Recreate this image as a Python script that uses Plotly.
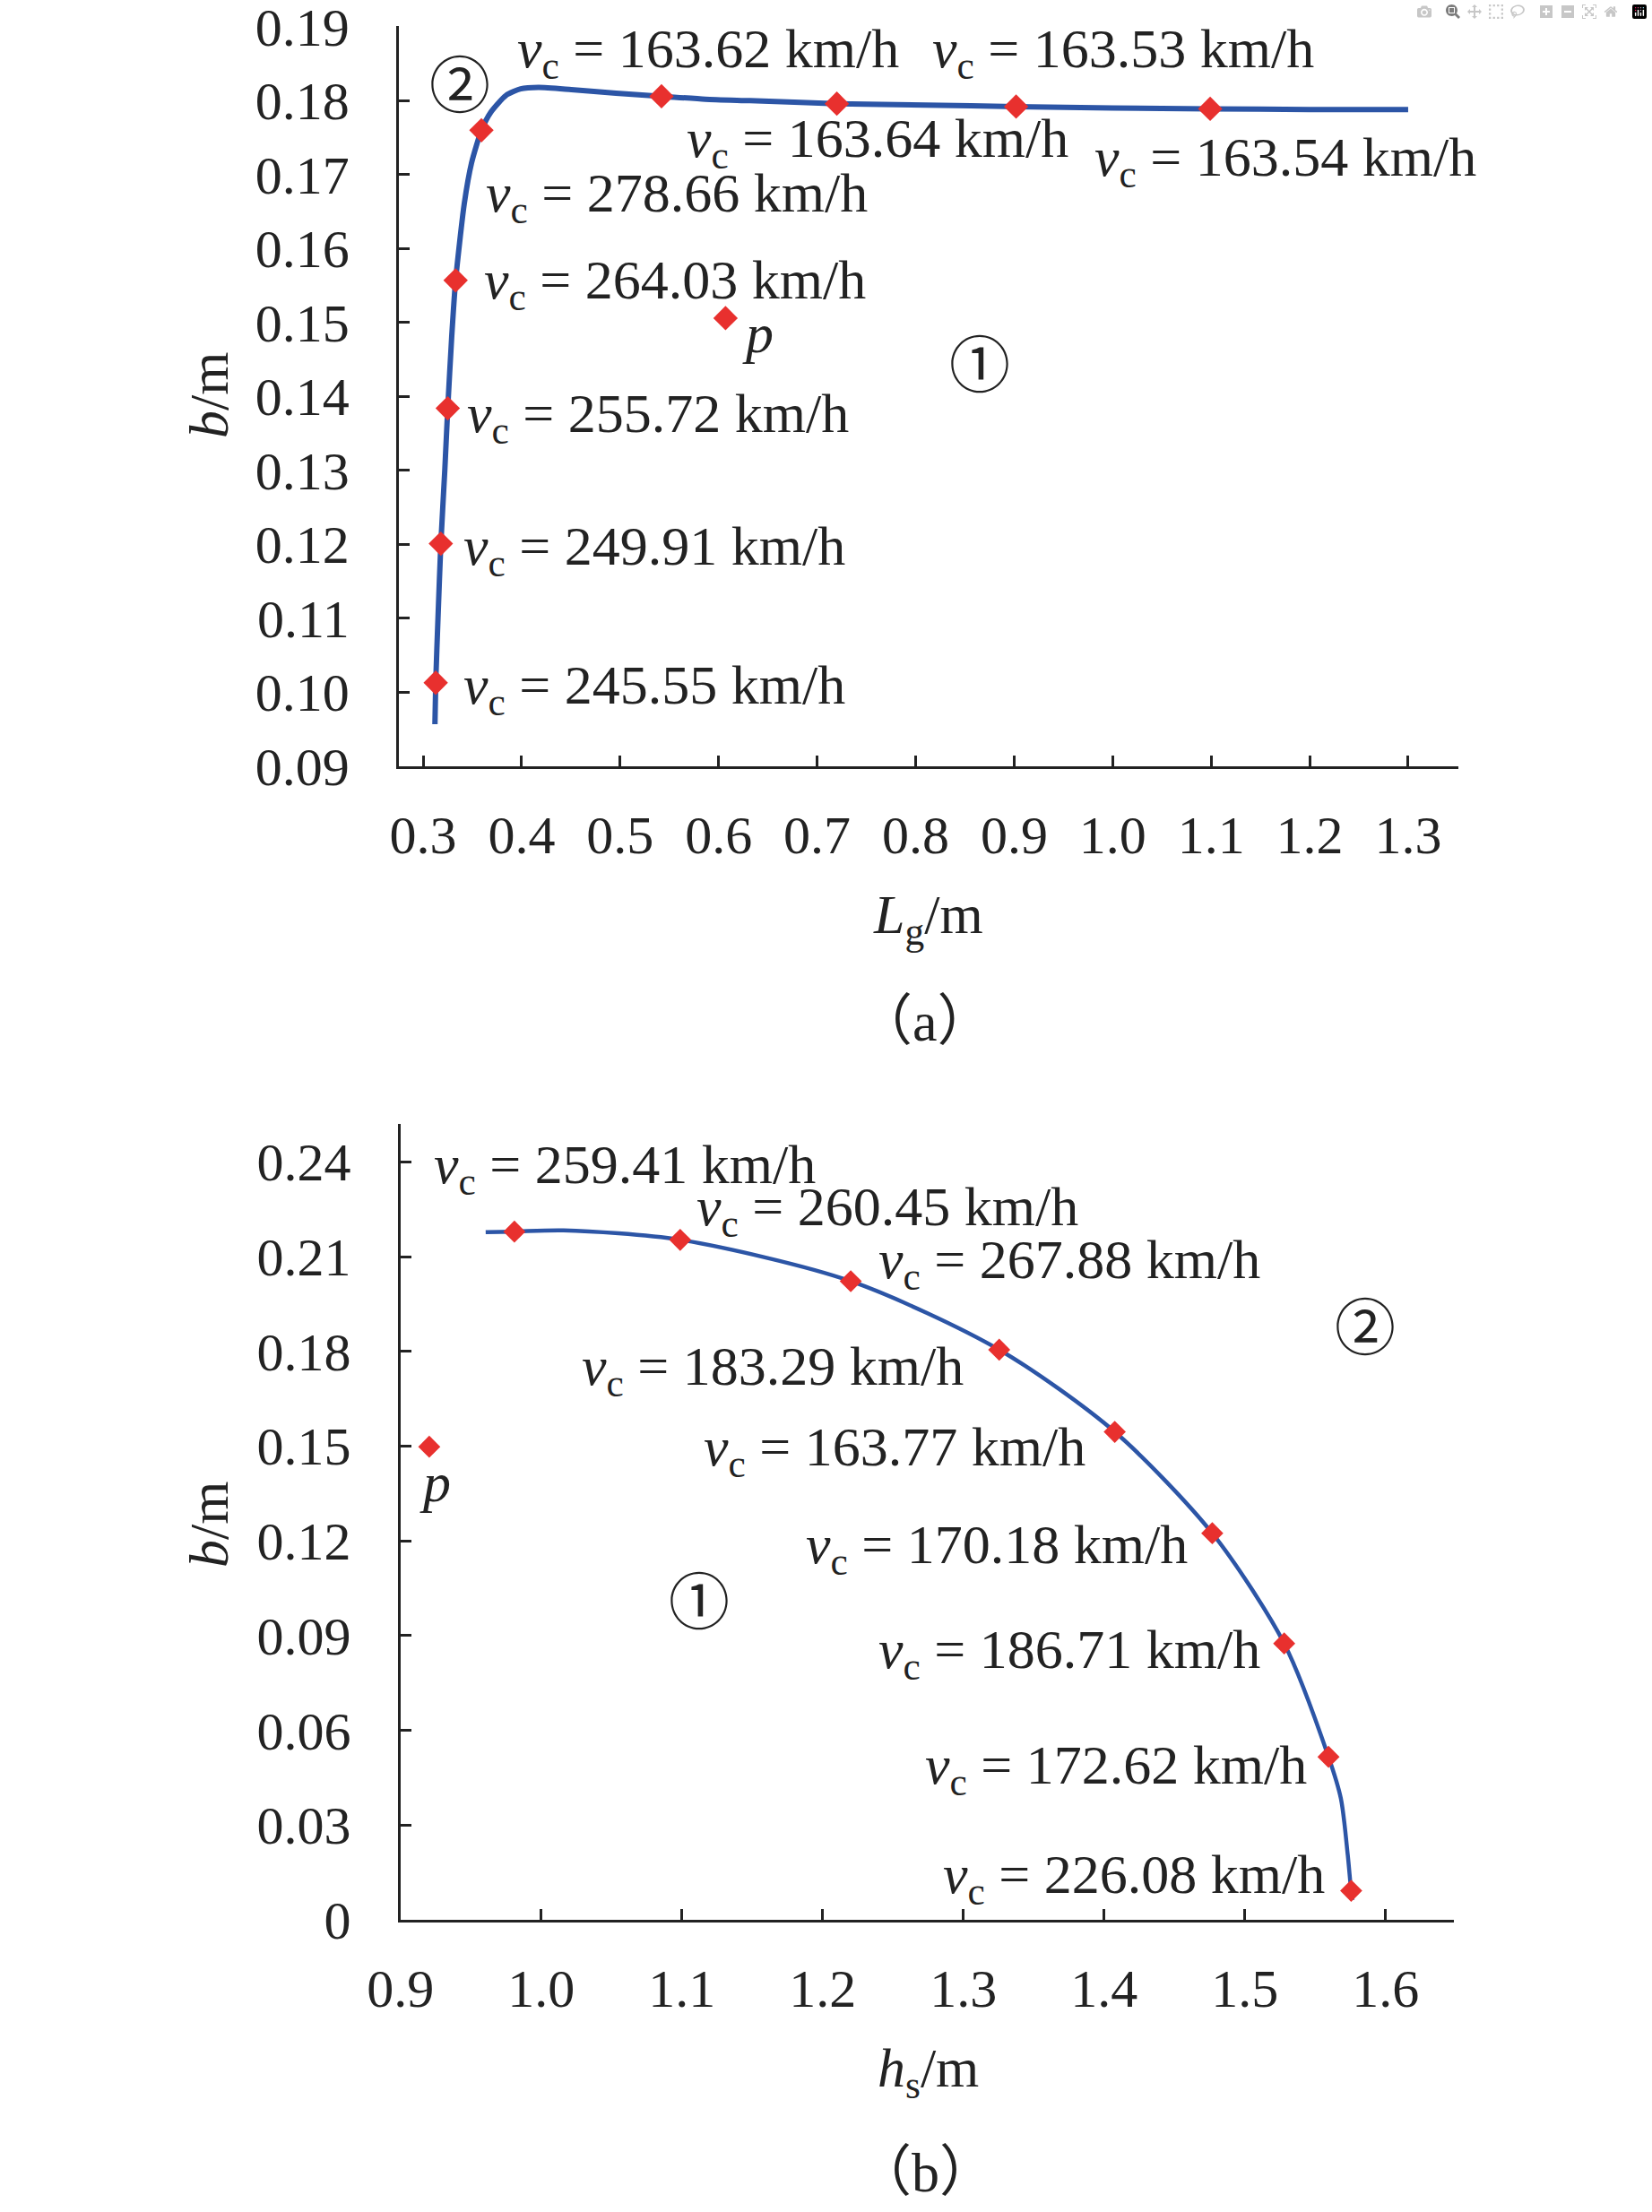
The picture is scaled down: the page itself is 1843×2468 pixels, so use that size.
import plotly.graph_objects as go

# ---------------- data: panel (a) ----------------
a_curve_x = [0.3120, 0.3128, 0.3151, 0.3180, 0.3220, 0.3250, 0.3290, 0.3330, 0.3417, 0.3492,
             0.3592, 0.3690, 0.3840, 0.3990, 0.4172, 0.4505, 0.4958, 0.5420, 0.5865, 0.6318,
             0.7200, 0.8100, 0.9020, 1.0000, 1.0990, 1.2000, 1.3000]
a_curve_y = [0.0957, 0.1013, 0.1100, 0.1201, 0.1300, 0.1384, 0.1480, 0.1557, 0.1660, 0.1716,
             0.1760, 0.1785, 0.1807, 0.1816, 0.1818, 0.1815, 0.1810, 0.1806, 0.1802, 0.1800,
             0.1796, 0.1794, 0.1792, 0.1790, 0.1789, 0.1788, 0.1788]
a_pts_x = [0.3128, 0.3180, 0.3250, 0.3330, 0.3592, 0.5420, 0.7200, 0.9020, 1.0990]
a_pts_y = [0.1013, 0.1201, 0.1384, 0.1557, 0.1760, 0.1806, 0.1796, 0.1792, 0.1789]
a_p = (0.607, 0.1506)
a_labels = ["245.55", "249.91", "255.72", "264.03", "278.66", "163.62", "163.64", "163.53", "163.54"]
a_label_x = [0.3387, 0.3387, 0.3430, 0.3600, 0.3620, 0.3940, 0.5660, 0.8150, 0.9800]
a_label_y = [0.1005, 0.1193, 0.1372, 0.1552, 0.1670, 0.1865, 0.1744, 0.1865, 0.1719]
a_xticks = [0.3, 0.4, 0.5, 0.6, 0.7, 0.8, 0.9, 1.0, 1.1, 1.2, 1.3]
a_yticks = [0.09, 0.10, 0.11, 0.12, 0.13, 0.14, 0.15, 0.16, 0.17, 0.18, 0.19]

# ---------------- data: panel (b) ----------------
b_curve_x = [0.9606, 0.9810, 1.0160, 1.0988, 1.2200, 1.3255, 1.4076, 1.4769, 1.5280, 1.5595,
             1.5683, 1.5732, 1.5756, 1.5766]
b_curve_y = [0.2177, 0.2179, 0.2183, 0.2153, 0.2022, 0.1805, 0.1545, 0.1224, 0.0875, 0.0516,
             0.0384, 0.0204, 0.0092, 0.0063]
b_pts_x = [0.9810, 1.0988, 1.2200, 1.3255, 1.4076, 1.4769, 1.5280, 1.5595, 1.5756]
b_pts_y = [0.2179, 0.2153, 0.2022, 0.1805, 0.1545, 0.1224, 0.0875, 0.0516, 0.0092]
b_p = (0.9205, 0.1498)
b_labels = ["259.41", "260.45", "267.88", "183.29", "163.77", "170.18", "186.71", "172.62", "226.08"]
b_label_x = [0.9225, 1.1090, 1.2385, 1.0275, 1.1140, 1.1870, 1.2385, 1.2713, 1.2840]
b_label_y = [0.2379, 0.2247, 0.2078, 0.1742, 0.1486, 0.1175, 0.0845, 0.0478, 0.0132]
b_xticks = [0.9, 1.0, 1.1, 1.2, 1.3, 1.4, 1.5, 1.6]
b_yticks = [0, 0.03, 0.06, 0.09, 0.12, 0.15, 0.18, 0.21, 0.24]
b_yticktext = ["0", "0.03", "0.06", "0.09", "0.12", "0.15", "0.18", "0.21", "0.24"]

W, H = 1843, 2468
FONT = "Liberation Serif"
FS_TICK = 60
FS_LAB = 62
LINE_C = "#2c55a6"
PT_C = "#e8302e"
AX_C = "#222222"

fig = go.Figure()

fig.add_trace(go.Scatter(x=a_curve_x, y=a_curve_y, mode="lines",
                         line=dict(color=LINE_C, width=6, shape="spline", smoothing=0.6),
                         xaxis="x", yaxis="y", hoverinfo="skip"))
fig.add_trace(go.Scatter(x=a_pts_x + [a_p[0]], y=a_pts_y + [a_p[1]], mode="markers",
                         marker=dict(symbol="diamond", size=21, color=PT_C), xaxis="x", yaxis="y"))
fig.add_trace(go.Scatter(x=b_curve_x, y=b_curve_y, mode="lines",
                         line=dict(color=LINE_C, width=4.5, shape="spline", smoothing=0.8),
                         xaxis="x2", yaxis="y2", hoverinfo="skip"))
fig.add_trace(go.Scatter(x=b_pts_x + [b_p[0]], y=b_pts_y + [b_p[1]], mode="markers",
                         marker=dict(symbol="diamond", size=19, color=PT_C), xaxis="x2", yaxis="y2"))


def axis_common():
    return dict(showline=True, linecolor=AX_C, linewidth=3.3, ticks="inside", ticklen=12, tickwidth=3,
                tickcolor=AX_C, showgrid=False, zeroline=False, mirror=False, automargin=False,
                ticklabeloverflow="allow",
                tickfont=dict(family=FONT, size=FS_TICK, color="#222"))


fig.update_layout(
    width=W, height=H, margin=dict(l=0, r=0, t=0, b=0, pad=0),
    paper_bgcolor="white", plot_bgcolor="white", showlegend=False,
    xaxis=dict(domain=[445 / W, 1627 / W], range=[0.2754, 1.351], tickvals=a_xticks,
               ticktext=[f"{v:.1f}" for v in a_xticks], anchor="y", ticklabelstandoff=22, **axis_common()),
    yaxis=dict(domain=[1 - 855 / H, 1 - 29 / H], range=[0.09, 0.1901], tickvals=a_yticks,
               ticktext=[f"{v:.2f}" for v in a_yticks], anchor="x", ticklabelstandoff=40, **axis_common()),
    xaxis2=dict(domain=[446.7 / W, 1622 / W], range=[0.9, 1.6486], tickvals=b_xticks,
                ticktext=[f"{v:.1f}" for v in b_xticks], anchor="y2", ticklabelstandoff=22, **axis_common()),
    yaxis2=dict(domain=[1 - 2142 / H, 1 - 1254 / H], range=[0, 0.252], tickvals=b_yticks,
                ticktext=b_yticktext, anchor="x2", ticklabelstandoff=40, **axis_common()),
)

ann = []


def vc(v):
    return f"<i>v</i><sub>c</sub> = {v} km/h"


for t, x, y in zip(a_labels, a_label_x, a_label_y):
    ann.append(dict(x=x, y=y, xref="x", yref="y", text=vc(t), xanchor="left", yanchor="middle",
                    font=dict(size=FS_LAB)))
for t, x, y in zip(b_labels, b_label_x, b_label_y):
    ann.append(dict(x=x, y=y, xref="x2", yref="y2", text=vc(t), xanchor="left", yanchor="middle",
                    font=dict(size=FS_LAB)))

CIRC = 68
CJK_FIRST = "Noto Sans CJK TC, Liberation Serif"
ann += [
    dict(x=0.640, y=0.1485, xref="x", yref="y", text="<i>p</i>", font=dict(size=FS_LAB)),
    dict(x=0.865, y=0.1441, xref="x", yref="y", text="①", font=dict(size=CIRC)),
    dict(x=0.337, y=0.1818, xref="x", yref="y", text="②", font=dict(size=CIRC)),
    dict(x=0.9245, y=0.1386, xref="x2", yref="y2", text="<i>p</i>", font=dict(size=FS_LAB)),
    dict(x=1.1125, y=0.1002, xref="x2", yref="y2", text="①", font=dict(size=CIRC)),
    dict(x=1.5854, y=0.1870, xref="x2", yref="y2", text="②", font=dict(size=CIRC)),
    dict(x=1035 / W, y=1 - 1024 / H, xref="paper", yref="paper", text="<i>L</i><sub>g</sub>/m",
         font=dict(size=FS_LAB)),
    dict(x=233 / W, y=1 - 441 / H, xref="paper", yref="paper", text="<i>b</i>/m", textangle=-90,
         font=dict(size=FS_LAB)),
    dict(x=1032 / W, y=1 - 1134 / H, xref="paper", yref="paper",
         text="（<span style=\"font-family:Liberation Serif\">a</span>）",
         font=dict(size=FS_LAB, family=CJK_FIRST)),
    dict(x=1035 / W, y=1 - 2311 / H, xref="paper", yref="paper", text="<i>h</i><sub>s</sub>/m",
         font=dict(size=FS_LAB)),
    dict(x=233 / W, y=1 - 1701 / H, xref="paper", yref="paper", text="<i>b</i>/m", textangle=-90,
         font=dict(size=FS_LAB)),
    dict(x=1032 / W, y=1 - 2418 / H, xref="paper", yref="paper",
         text="（<span style=\"font-family:Liberation Serif\">b</span>）",
         font=dict(size=FS_LAB, family=CJK_FIRST)),
]
for a in ann:
    a["showarrow"] = False
    a.setdefault("xanchor", "center")
    a.setdefault("yanchor", "middle")
    fam = a["font"].get("family", FONT + ", Noto Sans CJK SC")
    a["font"] = dict(family=fam, color="#222", size=a["font"]["size"])
fig.update_layout(annotations=ann)

fig.write_html("out.html", post_script="document.body.style.margin='0';")
